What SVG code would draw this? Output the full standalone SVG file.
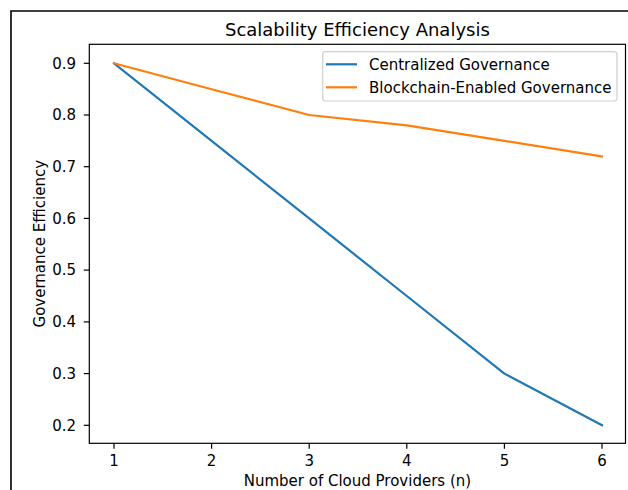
<svg xmlns="http://www.w3.org/2000/svg" width="628" height="490" viewBox="0 0 628 490">
<style>
text{font-family:"DejaVu Sans",Verdana,sans-serif;fill:#000}
.tk{font-size:15px}
.tick{stroke:#000;stroke-width:1.2}
.ser{fill:none;stroke-width:2.2;stroke-linejoin:round;stroke-linecap:square}
</style>
<rect width="628" height="490" fill="#fff"/>
<path d="M11,490 V11 H628" fill="none" stroke="#000" stroke-width="1.6"/>
<text x="357.4" y="36" font-size="18" text-anchor="middle">Scalability Efficiency Analysis</text>
<g id="yaxis">
<g class="tick">
<line x1="83.8" y1="63.3" x2="89.3" y2="63.3"/>
<line x1="83.8" y1="115" x2="89.3" y2="115"/>
<line x1="83.8" y1="166.7" x2="89.3" y2="166.7"/>
<line x1="83.8" y1="218.4" x2="89.3" y2="218.4"/>
<line x1="83.8" y1="270.1" x2="89.3" y2="270.1"/>
<line x1="83.8" y1="321.9" x2="89.3" y2="321.9"/>
<line x1="83.8" y1="373.6" x2="89.3" y2="373.6"/>
<line x1="83.8" y1="425.3" x2="89.3" y2="425.3"/>
</g>
<g class="tk" text-anchor="end">
<text x="76" y="68.6">0.9</text>
<text x="76" y="120.3">0.8</text>
<text x="76" y="172">0.7</text>
<text x="76" y="223.7">0.6</text>
<text x="76" y="275.4">0.5</text>
<text x="76" y="327.2">0.4</text>
<text x="76" y="378.9">0.3</text>
<text x="76" y="430.6">0.2</text>
</g>
<text transform="translate(45,243.7) rotate(-90)" font-size="15" text-anchor="middle">Governance Efficiency</text>
</g>
<g id="xaxis">
<g class="tick">
<line x1="114" y1="443.3" x2="114" y2="448.8"/>
<line x1="211.6" y1="443.3" x2="211.6" y2="448.8"/>
<line x1="309.2" y1="443.3" x2="309.2" y2="448.8"/>
<line x1="406.8" y1="443.3" x2="406.8" y2="448.8"/>
<line x1="504.4" y1="443.3" x2="504.4" y2="448.8"/>
<line x1="602" y1="443.3" x2="602" y2="448.8"/>
</g>
<g class="tk" text-anchor="middle">
<text x="114" y="466">1</text>
<text x="211.6" y="466">2</text>
<text x="309.2" y="466">3</text>
<text x="406.8" y="466">4</text>
<text x="504.4" y="466">5</text>
<text x="602" y="466">6</text>
</g>
<text x="357.4" y="486" font-size="15" text-anchor="middle">Number of Cloud Providers (n)</text>
</g>
<g id="series">
<polyline id="centralized" class="ser" stroke="#1f77b4" points="114,63.3 211.6,140.9 309.2,218.4 406.8,296 504.4,373.6 602,425.3"/>
<polyline id="blockchain" class="ser" stroke="#ff7f0e" points="114,63.3 211.6,89.2 309.2,115 406.8,125.4 504.4,140.9 602,156.4"/>
</g>
<rect id="axes-frame" x="89.3" y="44.3" width="536.2" height="399" fill="none" stroke="#000" stroke-width="1.2"/>
<g id="legend">
<rect x="322.7" y="51.7" width="294.3" height="49.3" rx="3" fill="#fff" fill-opacity="0.8" stroke="#d0d0d0" stroke-width="1.2"/>
<line x1="326" y1="64.3" x2="357" y2="64.3" stroke="#1f77b4" stroke-width="2.2"/>
<line x1="326" y1="87.3" x2="357" y2="87.3" stroke="#ff7f0e" stroke-width="2.2"/>
<text class="tk" x="369" y="69.6">Centralized Governance</text>
<text class="tk" x="369" y="92.6">Blockchain-Enabled Governance</text>
</g>
</svg>
